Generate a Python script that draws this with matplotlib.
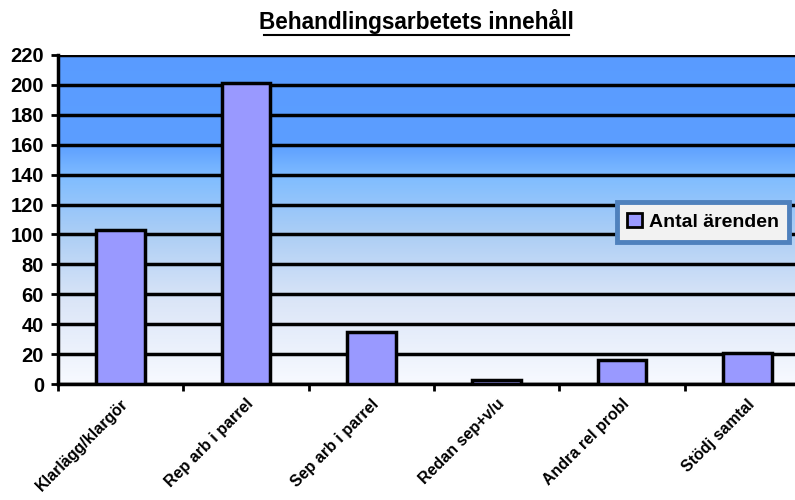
import numpy as np
import matplotlib
matplotlib.use("Agg")
import matplotlib.pyplot as plt
from matplotlib.colors import LinearSegmentedColormap
from matplotlib.patches import Patch

categories = ["Klarlägg/klargör", "Rep arb i parrel", "Sep arb i parrel",
              "Redan sep+v/u", "Andra rel probl", "Stödj samtal"]
values = [103, 201, 35, 3, 16, 21]
yticks = list(range(0, 221, 20))

plt.rcParams['font.family'] = ['Liberation Sans', 'DejaVu Sans']

fig = plt.figure(figsize=(7.95, 5.0), dpi=100)
# plot area runs past the right edge of the picture, as in the original
ax = fig.add_axes([58 / 795, 1 - 384 / 500, 752 / 795, 329 / 500])

# gradient background (blue at the top, fading to white)
cmap = LinearSegmentedColormap.from_list("bg", [
    (0.0, (0.97, 0.98, 1.0)),
    (0.25, (0.86, 0.90, 0.97)),
    (0.45, (0.68, 0.81, 0.96)),
    (0.63, (0.50, 0.74, 1.0)),
    (0.73, (0.36, 0.62, 1.0)),
    (1.0, (0.35, 0.61, 1.0)),
])
grad = np.linspace(0, 1, 256).reshape(-1, 1)
ax.imshow(grad, cmap=cmap, aspect='auto', origin='lower',
          extent=[0, 1, 0, 1], transform=ax.transAxes, zorder=0)

x = np.arange(len(categories))
ax.bar(x, values, width=0.39, color='#9999FF', edgecolor='black',
       linewidth=2.5, zorder=3, label='Antal ärenden')

ax.set_xlim(-0.5, len(categories) - 0.5)
ax.set_ylim(0, 220)
ax.set_yticks(yticks)
ax.set_xticks(np.arange(len(categories) + 1) - 0.5, minor=True)
ax.set_xticks(x)
ax.set_xticklabels(categories, rotation=45, ha='right', rotation_mode='anchor',
                   fontsize=11.5, fontweight='bold')
ax.tick_params(axis='x', which='major', length=0, pad=9)
ax.tick_params(axis='x', which='minor', length=5, width=2, color='black')
ax.tick_params(axis='y', length=5, width=2, pad=5, labelsize=14.5)
for lbl in ax.get_yticklabels():
    lbl.set_fontweight('bold')

ax.grid(axis='y', color='black', linewidth=2.5, zorder=1)
ax.set_axisbelow(True)
for side in ['top', 'right']:
    ax.spines[side].set_visible(False)
ax.spines['left'].set_linewidth(2.5)
ax.spines['bottom'].set_linewidth(2.5)

fig.text(416 / 795, 1 - 22 / 500, "Behandlingsarbetets innehåll", ha='center', va='center',
         fontsize=16.3, fontweight='bold')
fig.add_artist(plt.Line2D([264 / 795, 569 / 795], [1 - 35 / 500, 1 - 35 / 500],
                          color='black', linewidth=1.5))

handle = Patch(facecolor='#9999FF', edgecolor='black', linewidth=2)
leg = fig.legend([handle], ['Antal ärenden'], loc='center',
                 bbox_to_anchor=(703 / 795, 1 - 222 / 500),
                 frameon=True, fancybox=False, handlelength=0.75, handleheight=0.75,
                 handletextpad=0.35, borderpad=0.55,
                 prop={'weight': 'bold', 'size': 14})
leg.get_frame().set_facecolor('#F2F2F2')
leg.get_frame().set_edgecolor('#4F81BD')
leg.get_frame().set_linewidth(3.5)
leg.get_frame().set_alpha(1)

fig.savefig("out.png", dpi=100)
